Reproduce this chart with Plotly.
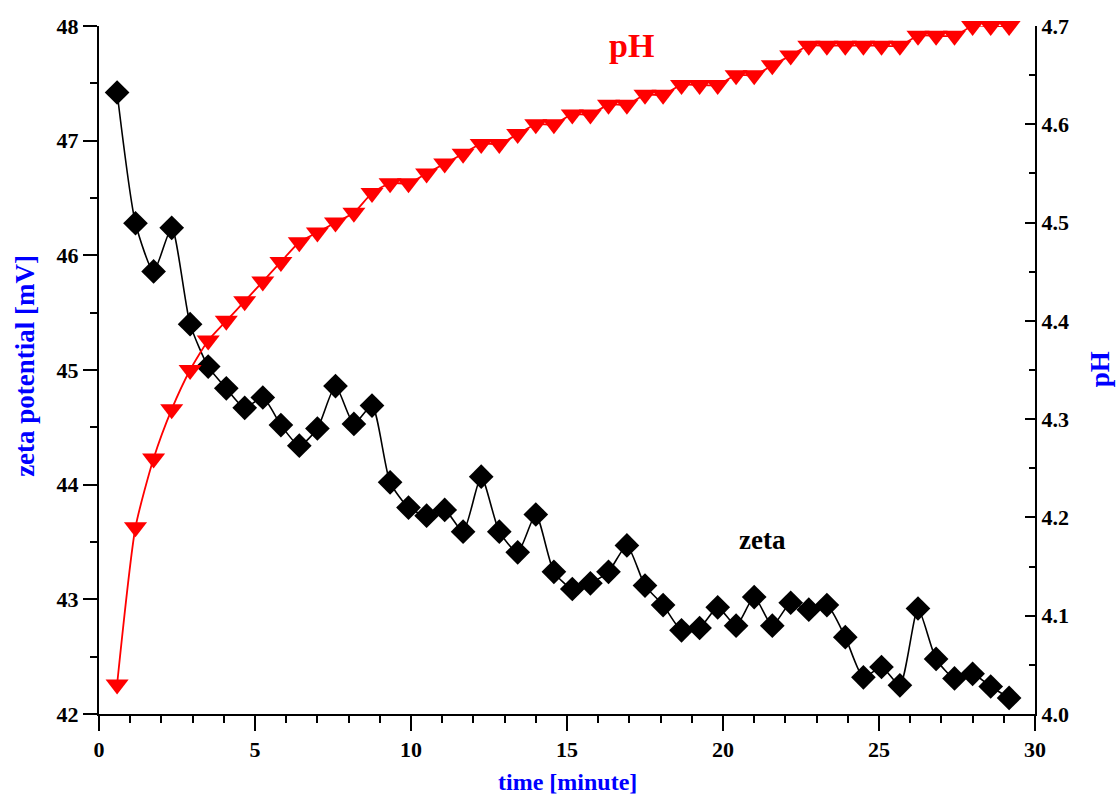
import plotly.graph_objects as go

# ---- data ----
time_min = [0.58, 1.17, 1.75, 2.33, 2.92, 3.50, 4.08, 4.67, 5.25, 5.83,
            6.42, 7.00, 7.58, 8.17, 8.75, 9.33, 9.92, 10.50, 11.08, 11.67,
            12.25, 12.83, 13.42, 14.00, 14.58, 15.17, 15.75, 16.33, 16.92, 17.50,
            18.08, 18.67, 19.25, 19.83, 20.42, 21.00, 21.58, 22.17, 22.75, 23.33,
            23.92, 24.50, 25.08, 25.67, 26.25, 26.83, 27.42, 28.00, 28.58, 29.17]

zeta_mV = [47.42, 46.28, 45.86, 46.24, 45.40, 45.03, 44.84, 44.67, 44.76, 44.52,
           44.34, 44.49, 44.86, 44.53, 44.69, 44.02, 43.80, 43.73, 43.78, 43.59,
           44.07, 43.59, 43.41, 43.74, 43.24, 43.09, 43.14, 43.24, 43.47, 43.12,
           42.95, 42.73, 42.75, 42.93, 42.77, 43.02, 42.77, 42.97, 42.91, 42.95,
           42.67, 42.32, 42.41, 42.25, 42.92, 42.48, 42.31, 42.35, 42.24, 42.14]

pH = [4.03, 4.19, 4.26, 4.31, 4.35, 4.38, 4.40, 4.42, 4.44, 4.46,
      4.48, 4.49, 4.50, 4.51, 4.53, 4.54, 4.54, 4.55, 4.56, 4.57,
      4.58, 4.58, 4.59, 4.60, 4.60, 4.61, 4.61, 4.62, 4.62, 4.63,
      4.63, 4.64, 4.64, 4.64, 4.65, 4.65, 4.66, 4.67, 4.68, 4.68,
      4.68, 4.68, 4.68, 4.68, 4.69, 4.69, 4.69, 4.70, 4.70, 4.70]

FONT = "Liberation Serif"
tickfont = dict(family=FONT, size=22, color="black", weight="bold")

fig = go.Figure()

fig.add_trace(go.Scatter(
    x=time_min, y=zeta_mV, mode="lines+markers", name="zeta",
    line=dict(color="black", width=1.6, shape="spline", smoothing=0.6),
    marker=dict(symbol="diamond", size=19, color="black"),
    cliponaxis=False, yaxis="y"))

fig.add_trace(go.Scatter(
    x=time_min, y=pH, mode="lines+markers", name="pH",
    line=dict(color="#FF0000", width=1.8, shape="spline", smoothing=0.6),
    marker=dict(symbol="triangle-down", size=20, color="#FF0000"),
    cliponaxis=False, yaxis="y2"))

fig.update_layout(
    width=1116, height=795,
    margin=dict(l=99, r=81, t=26, b=81, autoexpand=False),
    paper_bgcolor="white", plot_bgcolor="white",
    showlegend=False,
    xaxis=dict(range=[0, 30], dtick=5, showline=True, linecolor="black", linewidth=2,
               ticks="outside", ticklen=15, tickwidth=2, tickcolor="black",
               tickfont=tickfont, showgrid=False, zeroline=False, automargin=False,
               minor=dict(dtick=1, ticks="outside", ticklen=7, tickwidth=2, tickcolor="black")),
    yaxis=dict(range=[42, 48], dtick=1, showline=True, linecolor="black", linewidth=2,
               ticks="outside", ticklen=14, tickwidth=2, tickcolor="black",
               tickfont=tickfont, showgrid=False, zeroline=False, automargin=False,
               minor=dict(dtick=0.5, ticks="outside", ticklen=7, tickwidth=2, tickcolor="black")),
    yaxis2=dict(range=[4.0, 4.7], dtick=0.1, tickformat=".1f", overlaying="y", side="right",
                showline=True, linecolor="black", linewidth=2,
                ticks="inside", ticklen=10, tickwidth=2, tickcolor="black",
                tickfont=tickfont, showgrid=False, zeroline=False, automargin=False,
                minor=dict(dtick=0.05, ticks="inside", ticklen=6, tickwidth=2, tickcolor="black")),
    annotations=[
        dict(text="zeta potential [mV]", xref="paper", yref="paper", x=0, y=0.506,
             xshift=-74, textangle=-90, showarrow=False, xanchor="center", yanchor="middle",
             font=dict(family=FONT, size=27, color="#0000FF", weight="bold")),
        dict(text="time [minute]", xref="paper", yref="paper", x=0.5, y=0,
             yshift=-68, showarrow=False, xanchor="center", yanchor="middle",
             font=dict(family=FONT, size=24, color="#0000FF", weight="bold")),
        dict(text="pH", xref="paper", yref="paper", x=1, y=0.501,
             xshift=65, textangle=-90, showarrow=False, xanchor="center", yanchor="middle",
             font=dict(family=FONT, size=27, color="#0000FF", weight="bold")),
        dict(text="pH", xref="x", yref="y", x=17.07, y=47.83, showarrow=False,
             xanchor="center", yanchor="middle",
             font=dict(family=FONT, size=34, color="#FF0000", weight="bold")),
        dict(text="zeta", xref="x", yref="y", x=21.27, y=43.52, showarrow=False,
             xanchor="center", yanchor="middle",
             font=dict(family=FONT, size=27, color="black", weight="bold")),
    ],
)

fig.write_html("out.html", config={"displayModeBar": False},
               post_script="document.body.style.margin='0';document.body.style.overflow='hidden';")
